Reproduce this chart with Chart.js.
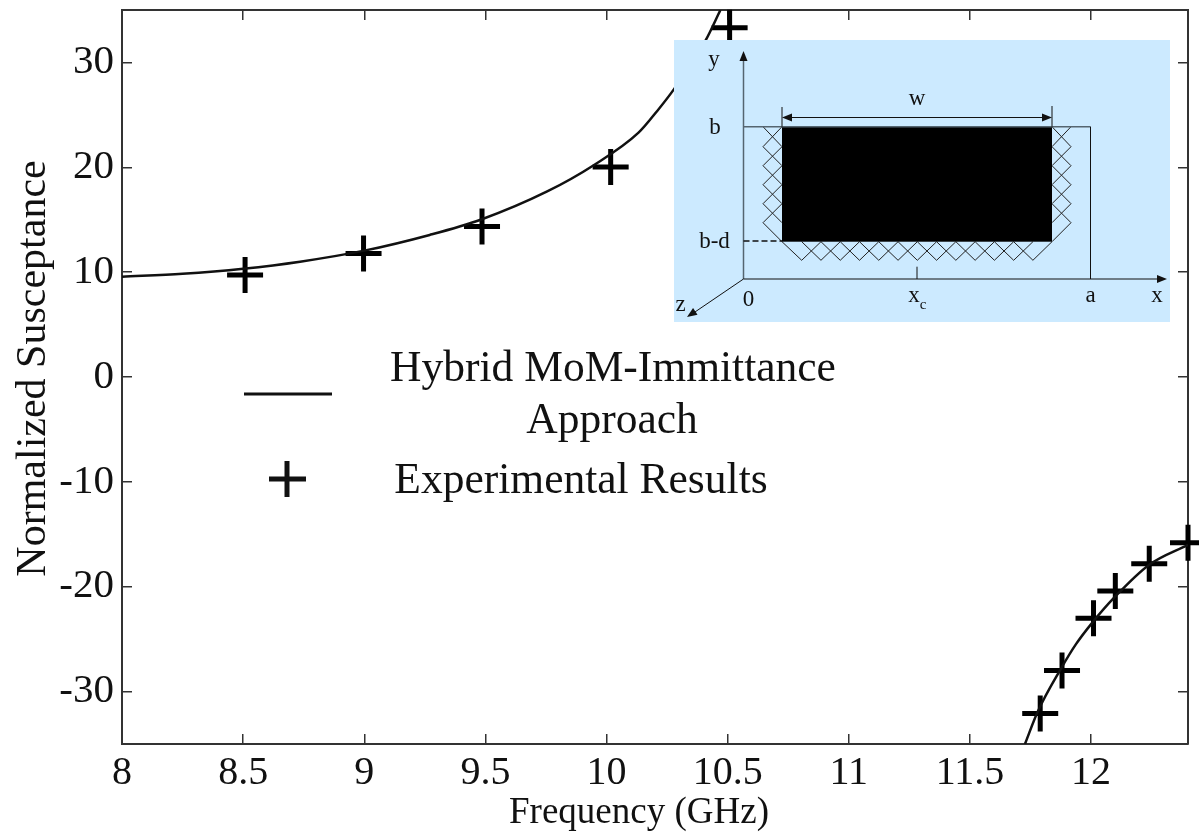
<!DOCTYPE html>
<html lang="en">
<head>
    <meta charset="UTF-8">
    <title>Normalized Susceptance</title>
    <script src="https://cdn.jsdelivr.net/npm/chart.js"></script>
    <style>
        html, body { margin: 0; padding: 0; background: #fff; overflow: hidden; }
        canvas { display: block; }
    </style>
</head>
<body>
    <canvas id="chart" width="1199" height="835"></canvas>

    <script>
        // tick labels
        const xTicks = [8, 8.5, 9, 9.5, 10, 10.5, 11, 11.5, 12];
        const yTicks = [-30, -20, -10, 0, 10, 20, 30];

        // simulated curve, lower frequency branch
        const curveFreqA = [8, 8.25, 8.5, 8.735, 9, 9.27, 9.48, 9.755, 9.947, 10.132, 10.21, 10.28, 10.41, 10.47];
        const curveValA = [9.57, 9.85, 10.33, 11.0, 12.05, 13.55, 15.0, 17.7, 20.2, 23.3, 25.4, 27.5, 32.15, 35];

        // simulated curve, upper frequency branch
        const curveFreqB = [11.727, 11.78, 11.876, 11.937, 12.006, 12.097, 12.24, 12.4];
        const curveValB = [-35, -31.9, -27.8, -25.5, -23.4, -21, -17.9, -16];

        // measured points
        const expFreq = [8.508, 8.997, 9.486, 10.017, 10.508, 11.79, 11.88, 12.01, 12.10, 12.24, 12.4];
        const expVal = [9.73, 11.77, 14.36, 20.03, 33.3, -32.1, -28, -23, -20.4, -17.8, -15.8];

        const serif = '"Liberation Serif", "Times New Roman", serif';
        const pairs = (xs, ys) => xs.map((x, i) => ({ x: x, y: ys[i] }));

        // force the axis box so the plot area stays fixed
        function fixBox(size) {
            return function (axis) {
                if (axis.isHorizontal()) axis.height = size; else axis.width = size;
                axis.paddingLeft = axis.paddingRight = axis.paddingTop = axis.paddingBottom = 0;
            };
        }

        function line(ctx, x1, y1, x2, y2) {
            ctx.beginPath();
            ctx.moveTo(x1, y1);
            ctx.lineTo(x2, y2);
            ctx.stroke();
        }

        function arrowHead(ctx, x, y, dx, dy) {
            const size = 10, half = 4;
            ctx.beginPath();
            ctx.moveTo(x, y);
            ctx.lineTo(x - dx * size - dy * half, y - dy * size + dx * half);
            ctx.lineTo(x - dx * size + dy * half, y - dy * size - dx * half);
            ctx.closePath();
            ctx.fill();
        }

        // axis titles sit off centre in the original, so they are placed by hand
        const axisTitlePlugin = {
            id: 'axisTitles',
            afterDraw(chart) {
                const ctx = chart.ctx;
                ctx.save();
                ctx.fillStyle = '#111';
                ctx.textAlign = 'center';
                ctx.textBaseline = 'alphabetic';
                ctx.font = '37px ' + serif;
                ctx.fillText('Frequency (GHz)', 639, 823);
                ctx.translate(45, 368.5);
                ctx.rotate(-Math.PI / 2);
                ctx.font = '42px ' + serif;
                ctx.fillText('Normalized Susceptance', 0, 0);
                ctx.restore();
            }
        };

        // legend sits inside the plot, with a wrapped first entry
        const legendPlugin = {
            id: 'legendBlock',
            afterDatasetsDraw(chart) {
                const ctx = chart.ctx;
                ctx.save();
                ctx.fillStyle = '#111';
                ctx.strokeStyle = '#111';
                ctx.font = '43.5px ' + serif;
                ctx.textBaseline = 'alphabetic';
                ctx.textAlign = 'center';
                ctx.fillText('Hybrid MoM-Immittance', 613, 381);
                ctx.fillText('Approach', 612, 433);
                ctx.fillText('Experimental Results', 581, 493);
                ctx.lineWidth = 3;
                line(ctx, 244, 394, 332, 394);
                ctx.lineWidth = 5;
                line(ctx, 269, 479, 306, 479);
                line(ctx, 287, 461, 287, 497);
                ctx.restore();
            }
        };

        // cross section sketch in the upper right corner
        const insetPlugin = {
            id: 'insetSketch',
            afterDatasetsDraw(chart) {
                const ctx = chart.ctx;
                ctx.save();
                ctx.fillStyle = '#cceaff';
                ctx.fillRect(674, 40, 496, 282);

                // hatching around the slot
                ctx.strokeStyle = '#222';
                ctx.lineWidth = 1;
                const sideRows = [126.7, 146.7, 165.7, 184.7, 203.7, 222.7, 241.7];
                for (let i = 0; i < sideRows.length - 1; i++) {
                    const y1 = sideRows[i], y2 = sideRows[i + 1];
                    line(ctx, 763, y1, 782, y2);
                    if (i < sideRows.length - 2) line(ctx, 782, y1, 763, y2);
                    line(ctx, 1071, y1, 1052, y2);
                    if (i < sideRows.length - 2) line(ctx, 1052, y1, 1071, y2);
                }
                line(ctx, 782, 241.7, 801.7, 260.3);
                line(ctx, 1052, 241.7, 1032.9, 260.3);
                for (let k = 0; k < 12; k++) {
                    const x1 = 801.7 + k * 19.27, x2 = x1 + 19.27;
                    line(ctx, x1, 260.3, x2, 241.7);
                    line(ctx, x1, 241.7, x2, 260.3);
                }

                ctx.fillStyle = '#000';
                ctx.fillRect(782, 126.7, 270, 115);

                // axes
                ctx.strokeStyle = '#556570';
                ctx.lineWidth = 1.5;
                line(ctx, 743.5, 279, 743.5, 54);
                line(ctx, 743.5, 126.7, 1090.5, 126.7);
                ctx.strokeStyle = '#111';
                ctx.lineWidth = 1;
                line(ctx, 1090.5, 126.7, 1090.5, 279);
                line(ctx, 743.5, 279, 1160, 279);
                line(ctx, 743.5, 279, 692, 314);
                line(ctx, 917, 266.7, 917, 279);
                ctx.fillStyle = '#111';
                arrowHead(ctx, 743.5, 51, 0, -1);
                arrowHead(ctx, 1167, 279, 1, 0);
                arrowHead(ctx, 687, 317, -0.83, 0.56);

                // width dimension
                line(ctx, 782, 107, 782, 126.7);
                line(ctx, 1052, 106, 1052, 126.7);
                line(ctx, 785, 117.5, 1049, 117.5);
                arrowHead(ctx, 782, 117.5, -1, 0);
                arrowHead(ctx, 1052, 117.5, 1, 0);

                // dashed b-d level
                ctx.lineWidth = 1.5;
                ctx.setLineDash([6, 3]);
                line(ctx, 743.5, 241, 782, 241);
                ctx.setLineDash([]);

                ctx.fillStyle = '#111';
                ctx.textAlign = 'center';
                ctx.textBaseline = 'alphabetic';
                ctx.font = '23px ' + serif;
                ctx.fillText('y', 714, 66);
                ctx.fillText('b', 715, 134);
                ctx.fillText('b-d', 714.5, 248);
                ctx.fillText('0', 748.5, 306);
                ctx.fillText('x', 914, 302);
                ctx.fillText('a', 1090.5, 302);
                ctx.fillText('x', 1157, 302);
                ctx.fillText('z', 680.5, 311);
                ctx.fillText('w', 917, 105);
                ctx.font = '15px ' + serif;
                ctx.fillText('c', 923, 309);
                ctx.restore();
            }
        };

        const axisColor = '#333';
        const tickOpts = { color: axisColor, lineWidth: 1.5, drawOnChartArea: false, drawTicks: true, tickLength: -10 };

        new Chart(document.getElementById('chart').getContext('2d'), {
            type: 'scatter',
            data: {
                datasets: [
                    {
                        label: 'Hybrid MoM-Immittance Approach',
                        data: pairs(curveFreqA, curveValA),
                        showLine: true, pointRadius: 0, borderColor: '#111', borderWidth: 2.5,
                        cubicInterpolationMode: 'monotone'
                    },
                    {
                        label: 'Hybrid MoM-Immittance Approach (upper branch)',
                        data: pairs(curveFreqB, curveValB),
                        showLine: true, pointRadius: 0, borderColor: '#111', borderWidth: 2.5,
                        cubicInterpolationMode: 'monotone'
                    },
                    {
                        label: 'Experimental Results',
                        data: pairs(expFreq, expVal),
                        showLine: false, pointStyle: 'cross', pointRadius: 18, pointBorderWidth: 5,
                        pointBorderColor: '#000', clip: false
                    }
                ]
            },
            options: {
                responsive: false,
                animation: false,
                layout: { autoPadding: false, padding: { top: 10, right: 11, left: 0, bottom: 0 } },
                plugins: { legend: { display: false }, tooltip: { enabled: false } },
                scales: {
                    x: {
                        type: 'linear', position: 'bottom', min: 8, max: 12.4,
                        afterBuildTicks: a => { a.ticks = xTicks.map(v => ({ value: v })); },
                        afterFit: fixBox(91),
                        grid: tickOpts,
                        border: { color: axisColor, width: 2 },
                        ticks: {
                            color: '#111', font: { family: serif, size: 40 }, padding: 15,
                            maxRotation: 0, autoSkip: false, callback: v => String(v)
                        }
                    },
                    y: {
                        type: 'linear', position: 'left', min: -35, max: 35,
                        afterBuildTicks: a => { a.ticks = yTicks.map(v => ({ value: v })); },
                        afterFit: fixBox(122),
                        grid: tickOpts,
                        border: { color: axisColor, width: 2 },
                        ticks: {
                            color: '#111', font: { family: serif, size: 41 }, padding: 18,
                            autoSkip: false, callback: v => String(v)
                        }
                    },
                    xTop: {
                        type: 'linear', position: 'top', min: 8, max: 12.4,
                        afterBuildTicks: a => { a.ticks = xTicks.map(v => ({ value: v })); },
                        afterFit: fixBox(0),
                        grid: tickOpts,
                        border: { color: axisColor, width: 2 },
                        ticks: { display: false }
                    },
                    yRight: {
                        type: 'linear', position: 'right', min: -35, max: 35,
                        afterBuildTicks: a => { a.ticks = yTicks.map(v => ({ value: v })); },
                        afterFit: fixBox(0),
                        grid: tickOpts,
                        border: { color: axisColor, width: 2 },
                        ticks: { display: false }
                    }
                }
            },
            plugins: [insetPlugin, legendPlugin, axisTitlePlugin]
        });
    </script>
</body>
</html>
